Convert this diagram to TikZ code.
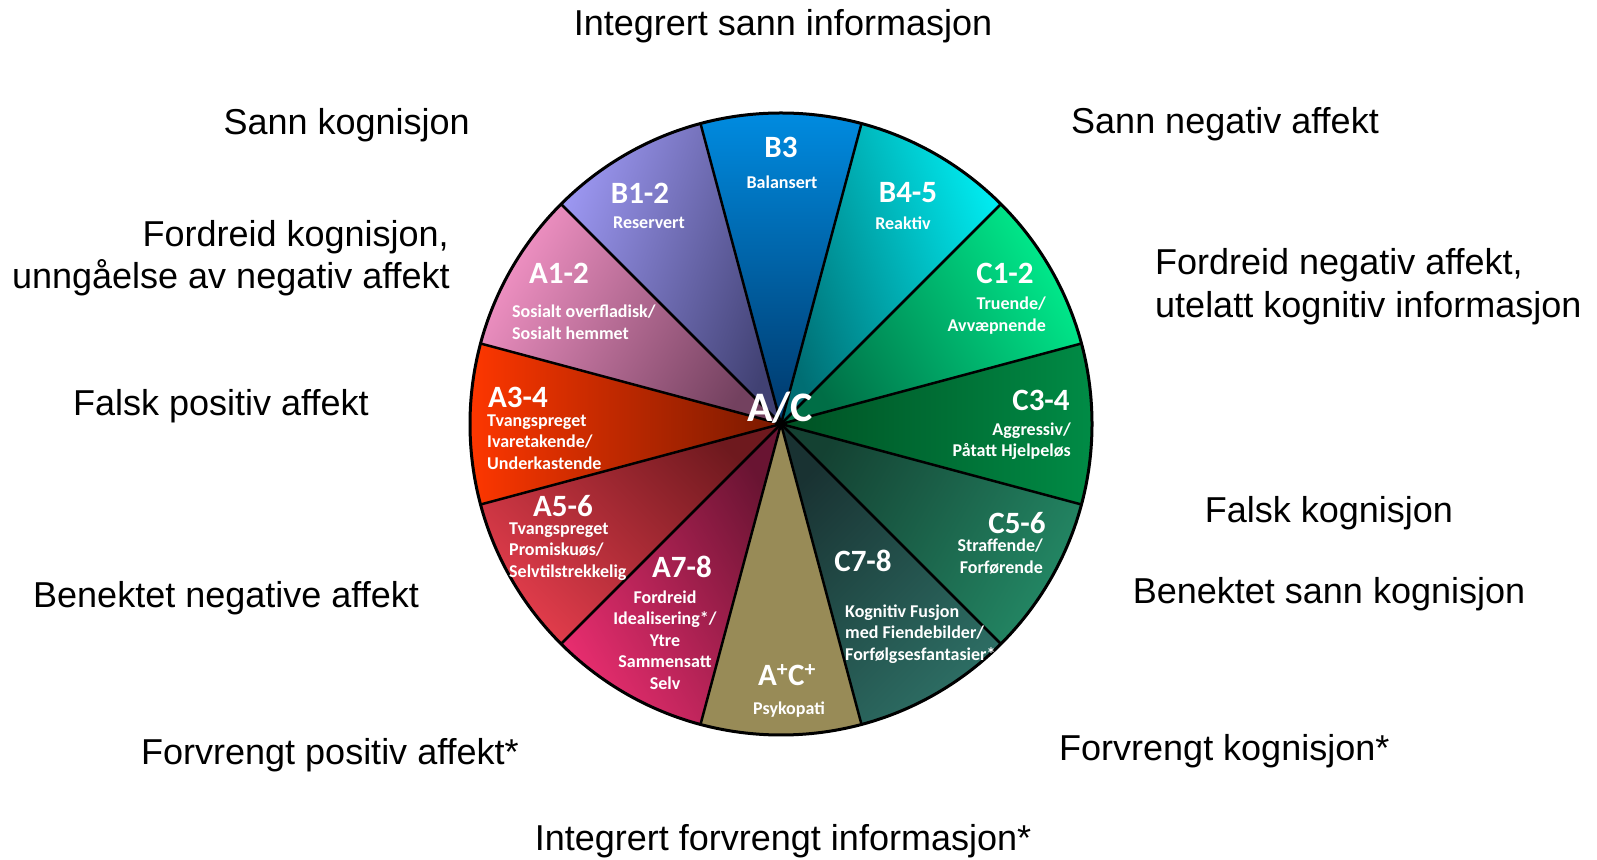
\documentclass[tikz,border=0pt]{standalone}
\usepackage{fontspec}
\setmainfont{Liberation Sans}
\newfontfamily\carl{Carlito}
\definecolor{b3l}{RGB}{0,140,225}\definecolor{b3d}{RGB}{0,55,105}
\definecolor{b12l}{RGB}{155,150,240}\definecolor{b12d}{RGB}{65,65,115}
\definecolor{a12l}{RGB}{240,145,195}\definecolor{a12d}{RGB}{115,65,95}
\definecolor{a34l}{RGB}{255,55,0}\definecolor{a34d}{RGB}{120,25,0}
\definecolor{a56l}{RGB}{225,60,75}\definecolor{a56d}{RGB}{110,25,30}
\definecolor{a78l}{RGB}{230,45,110}\definecolor{a78d}{RGB}{105,20,50}
\definecolor{acp}{RGB}{152,139,87}
\definecolor{c78l}{RGB}{45,110,100}\definecolor{c78d}{RGB}{25,50,50}
\definecolor{c56l}{RGB}{35,135,100}\definecolor{c56d}{RGB}{20,65,50}
\definecolor{c34l}{RGB}{0,140,70}\definecolor{c34d}{RGB}{0,80,35}
\definecolor{c12l}{RGB}{0,235,140}\definecolor{c12d}{RGB}{0,110,70}
\definecolor{b45l}{RGB}{0,235,240}\definecolor{b45d}{RGB}{0,110,115}
\newcommand\mywedge[5]{\shade[top color=#3, bottom color=#4, shading angle=#5] (C) -- ++(#1:\R) arc[start angle=#1, end angle=#2, radius=\R] -- cycle;}
\tikzset{
  outer/.style={font=\fontsize{36}{41}\selectfont, inner sep=0pt},
  big/.style={font=\carl\bfseries\fontsize{31}{36}\selectfont, text=white, inner sep=0pt},
  small/.style={font=\carl\bfseries\fontsize{18}{21.5}\selectfont, text=white, inner sep=0pt},
  sep/.style={line width=2.5pt, black},
}
\begin{document}
\begin{tikzpicture}[x=1pt,y=1pt]
\useasboundingbox (0,0) rectangle (1597,859);
\coordinate (C) at (781,435);
\def\R{311}
% wedges
\mywedge{75}{105}{b3l}{b3d}{0}
\mywedge{105}{135}{b12l}{b12d}{70}
\mywedge{135}{165}{a12l}{a12d}{60}
\mywedge{165}{195}{a34l}{a34d}{90}
\mywedge{195}{225}{a56l}{a56d}{135}
\mywedge{225}{255}{a78l}{a78d}{120}
\fill[acp] (C) -- ++(255:\R) arc[start angle=255, end angle=285, radius=\R] -- cycle;
\mywedge{285}{315}{c78l}{c78d}{225}
\mywedge{315}{345}{c56l}{c56d}{240}
\mywedge{345}{375}{c34l}{c34d}{270}
\mywedge{15}{45}{c12l}{c12d}{300}
\mywedge{45}{75}{b45l}{b45d}{290}
% separators
\foreach \a in {15,45,...,345} \draw[sep] (C) -- ++(\a:\R);
\draw[line width=3pt] (C) circle[radius=\R];
% wedge labels
\node[big] (lb3) at (781,712) {B3};
\node[small] (sb3) at (782,677) {Balansert};
\node[big] (lb12) at (640,666) {B1-2};
\node[small] (sb12) at (649,636) {Reservert};
\node[big] (lb45) at (908,666) {B4-5};
\node[small] (sb45) at (903,636) {Reaktiv};
\node[big] (la12) at (559,586) {A1-2};
\node[small, align=left, anchor=west] (sa12) at (512,536.5) {Sosialt overfladisk/\\Sosialt hemmet};
\node[big, anchor=west] (la34) at (488,462) {A3-4};
\node[small, align=left, anchor=west] (sa34) at (487,417) {Tvangspreget\\Ivaretakende/\\Underkastende};
\node[big] (la56) at (563,353) {A5-6};
\node[small, align=left, anchor=west] (sa56) at (509,307.5) {Tvangspreget\\Promiskuøs/\\Selvtilstrekkelig};
\node[big] (la78) at (682,292) {A7-8};
\node[small, align=center] (sa78) at (665,219) {Fordreid\\Idealisering*/\\Ytre\\Sammensatt\\Selv};
\node[big] (lacp) at (787,184) {A\textsuperscript{+}C\textsuperscript{+}};
\node[small] (sacp) at (789,149) {Psykopati};
\node[big] (lc78) at (863,298) {C7-8};
\node[small, align=left, anchor=west] (sc78) at (845,225) {Kognitiv Fusjon\\med Fiendebilder/\\Forfølgsesfantasier*};
\node[big] (lc56) at (1017,336) {C5-6};
\node[small, align=right, anchor=east] (sc56) at (1043,302.5) {Straffende/\\Forførende};
\node[big] (lc34) at (1041,459) {C3-4};
\node[small, align=right, anchor=east] (sc34) at (1071,418) {Aggressiv/\\Påtatt Hjelpeløs};
\node[big] (lc12) at (1005,586) {C1-2};
\node[small, align=right, anchor=east] (sc12) at (1046,543.5) {Truende/\\Avvæpnende};
\node[big, font=\carl\bfseries\fontsize{42}{48}\selectfont] (lac) at (780,451) {A/C};
% outer labels
\node[outer, anchor=base] (t1) at (783,823) {Integrert sann informasjon};
\node[outer, anchor=base east] (t2) at (470,724) {Sann kognisjon};
\node[outer, anchor=base west] (t3) at (1071,725) {Sann negativ affekt};
\node[outer, anchor=base east] (t4a) at (449,612) {Fordreid kognisjon,};
\node[outer, anchor=base east] (t4b) at (450,570) {unngåelse av negativ affekt};
\node[outer, anchor=base west] (t5a) at (1155,584) {Fordreid negativ affekt,};
\node[outer, anchor=base west] (t5b) at (1155,541) {utelatt kognitiv informasjon};
\node[outer, anchor=base west] (t6) at (73,443) {Falsk positiv affekt};
\node[outer, anchor=base] (t7) at (1329,336) {Falsk kognisjon};
\node[outer, anchor=base] (t8) at (1329,255) {Benektet sann kognisjon};
\node[outer, anchor=base west] (t9) at (33,251) {Benektet negative affekt};
\node[outer, anchor=base west] (t10) at (141,95) {Forvrengt positiv affekt*};
\node[outer, anchor=base west] (t11) at (1059,99) {Forvrengt kognisjon*};
\node[outer, anchor=base] (t12) at (783,9) {Integrert forvrengt informasjon*};
\end{tikzpicture}
\end{document}
